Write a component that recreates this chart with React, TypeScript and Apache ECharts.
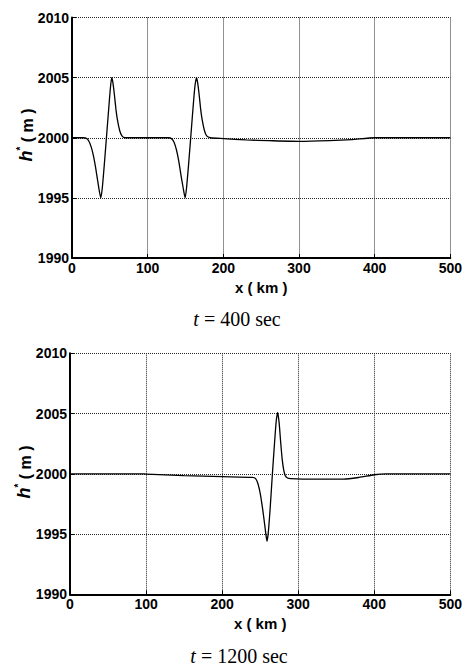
import React, { useEffect, useRef } from "react";
import * as echarts from "echarts";

// t = 400 sec
const xKm400 = [0, 15, 19, 22, 25, 28, 31, 34, 36, 38, 40, 43, 46, 49, 51, 52.5, 54, 56, 58, 60, 63, 66, 70, 100,
  128, 132, 135, 138, 141, 144, 147, 149.5, 151.5, 154.5, 157.5, 160.5, 162.5, 164.5, 166, 168, 170, 172, 175, 178, 183,
  200, 230, 260, 300, 340, 370, 400, 450, 500];
const h400 = [2000, 2000, 1999.95, 1999.75, 1999.3, 1998.6, 1997.6, 1996.4, 1995.6, 1995.0, 1995.8, 1998.0, 2000.4, 2002.8, 2004.3, 2005.0, 2004.6, 2003.6, 2002.4, 2001.5, 2000.6, 2000.15, 2000.0, 2000,
  2000, 1999.9, 1999.6, 1999.0, 1998.1, 1996.9, 1995.8, 1995.0, 1995.9, 1998.1, 2000.5, 2002.9, 2004.3, 2005.0, 2004.6, 2003.6, 2002.4, 2001.5, 2000.6, 2000.15, 2000.0,
  1999.93, 1999.82, 1999.76, 1999.7, 1999.76, 1999.85, 2000.0, 2000, 2000];

// t = 1200 sec
const xKm1200 = [0, 95, 100, 150, 200, 240, 244, 247, 250, 253, 255.5, 257.5, 259, 260.5, 263, 266, 268.5, 271, 273, 275, 277, 279, 281, 283, 286, 290, 320, 360, 380, 400, 415, 500];
const h1200 = [2000, 2000, 1999.98, 1999.85, 1999.76, 1999.7, 1999.6, 1999.2, 1998.4, 1997.2, 1996.0, 1995.0, 1994.4, 1995.0, 1997.0, 1999.9, 2002.2, 2004.3, 2005.1, 2004.2, 2002.6, 2001.2, 2000.3, 1999.85, 1999.65, 1999.6, 1999.55, 1999.55, 1999.7, 1999.92, 2000, 2000];

const xTicks = [0, 100, 200, 300, 400, 500];
const yTicks = [1990, 1995, 2000, 2005, 2010];
const titles = ["400", "1200"];
const xName = "x ( km )";

const SANS = "'Liberation Sans', Arial, Helvetica, sans-serif";
const SERIF = "'Liberation Serif', 'Times New Roman', Times, serif";

function zip(xs: number[], ys: number[]) {
  return xs.map((x, i) => [x, ys[i]]);
}

export default function App() {
  const ref = useRef<HTMLDivElement>(null);
  useEffect(() => {
    if (!ref.current) return;
    const chart = echarts.init(ref.current, null, { renderer: "svg" });
    const grids = [
      { left: 72, top: 17.5, width: 380, height: 240.5 },
      { left: 70, top: 353.3, width: 387.7, height: 241 },
    ];
    const labelStyle = {
      fontFamily: SANS,
      fontWeight: "bold",
      fontSize: 14,
      color: "#000",
      margin: 3,
      formatter: (v: number) => String(v),
    };
    const gridLine = { show: true, lineStyle: { color: "#222", type: [1, 1], width: 1 } };
    const mkX = (gi: number) => ({
      type: "value",
      gridIndex: gi,
      min: xTicks[0],
      max: xTicks[xTicks.length - 1],
      interval: xTicks[1] - xTicks[0],
      name: xName,
      nameLocation: "middle",
      nameGap: 22,
      nameTextStyle: { fontFamily: SANS, fontWeight: "bold", fontSize: 15, color: "#000" },
      axisLine: { show: true, lineStyle: { color: "#000", width: 2 } },
      axisTick: { show: true, inside: true, length: 4, lineStyle: { color: "#000" } },
      axisLabel: labelStyle,
      splitLine: gridLine,
    });
    const mkY = (gi: number) => ({
      type: "value",
      gridIndex: gi,
      min: yTicks[0],
      max: yTicks[yTicks.length - 1],
      interval: yTicks[1] - yTicks[0],
      axisLine: { show: true, lineStyle: { color: "#000", width: 2 } },
      axisTick: { show: true, inside: true, length: 4, lineStyle: { color: "#000" } },
      axisLabel: labelStyle,
      splitLine: gridLine,
    });
    const yLabel = (x: number, y: number) => ({
      type: "text",
      x,
      y,
      rotation: Math.PI / 2,
      style: {
        text: "{h|h}{s|*}{m| ( m )}",
        align: "center",
        verticalAlign: "middle",
        rich: {
          h: { fontFamily: SANS, fontWeight: "bold", fontStyle: "italic", fontSize: 18, fill: "#000", lineHeight: 20, verticalAlign: "bottom" },
          s: { fontFamily: SANS, fontWeight: "bold", fontSize: 10, fill: "#000", lineHeight: 20, verticalAlign: "top" },
          m: { fontFamily: SANS, fontWeight: "bold", fontSize: 16, fill: "#000", lineHeight: 20, verticalAlign: "bottom" },
        },
      },
    });
    const title = (x: number, y: number, v: string) => ({
      type: "text",
      x,
      y,
      style: {
        text: "{t|t} = " + v + " sec",
        align: "center",
        verticalAlign: "middle",
        fontFamily: SERIF,
        fontSize: 20,
        fill: "#000",
        rich: { t: { fontFamily: SERIF, fontStyle: "italic", fontSize: 20, fill: "#000" } },
      },
    });
    chart.setOption({
      animation: false,
      backgroundColor: "#fff",
      grid: grids,
      xAxis: [mkX(0), mkX(1)],
      yAxis: [mkY(0), mkY(1)],
      series: [
        {
          type: "line",
          xAxisIndex: 0,
          yAxisIndex: 0,
          data: zip(xKm400, h400),
          showSymbol: false,
          smooth: 0.2,
          lineStyle: { color: "#000", width: 1.3 },
        },
        {
          type: "line",
          xAxisIndex: 1,
          yAxisIndex: 1,
          data: zip(xKm1200, h1200),
          showSymbol: false,
          smooth: 0.2,
          lineStyle: { color: "#000", width: 1.3 },
        },
      ],
      graphic: [
        yLabel(25, 135),
        yLabel(23, 472),
        title(237, 319, titles[0]),
        title(239, 656, titles[1]),
      ],
    });
    return () => chart.dispose();
  }, []);
  return (
    <div
      ref={ref}
      style={{ position: "fixed", left: 0, top: 0, width: 465, height: 667, background: "#fff" }}
    />
  );
}
